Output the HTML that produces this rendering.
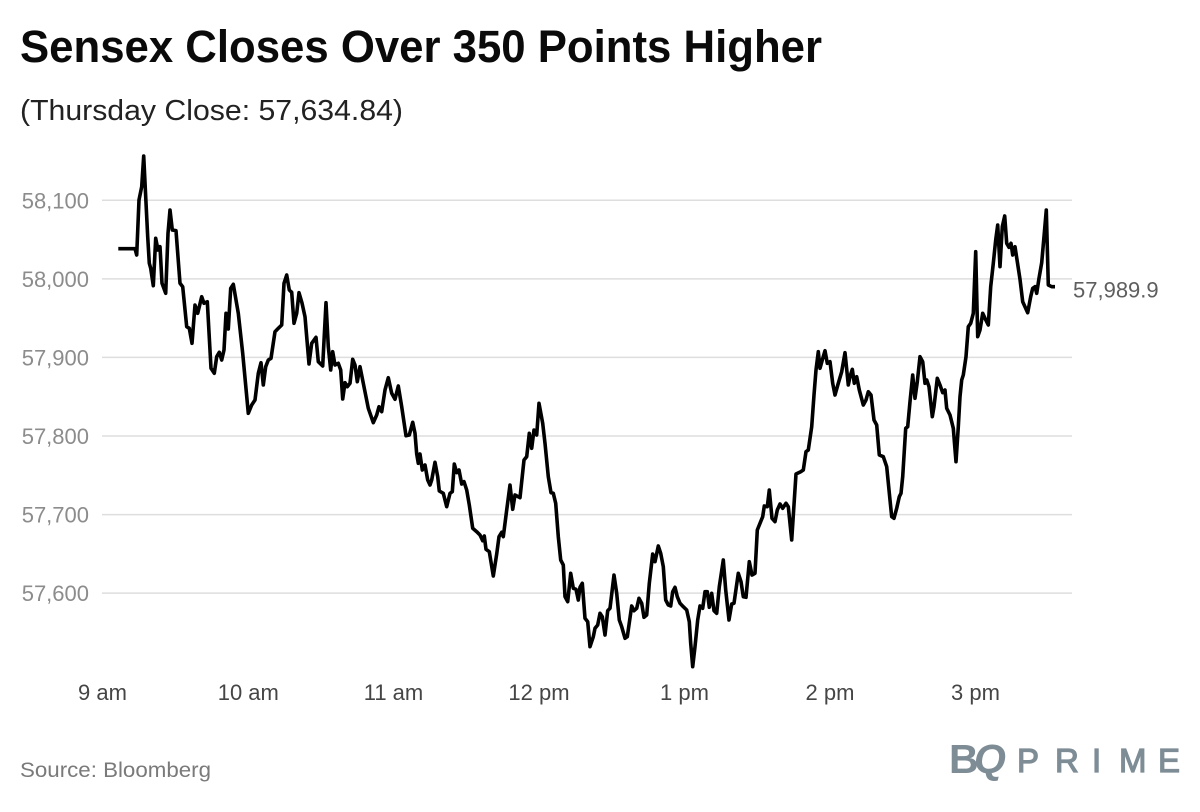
<!DOCTYPE html>
<html>
<head>
<meta charset="utf-8">
<style>
  html, body { margin: 0; padding: 0; background: #ffffff; }
  svg { display: block; }
  text { font-family: "Liberation Sans", Arial, sans-serif; }
</style>
</head>
<body>
<svg width="1200" height="812" viewBox="0 0 1200 812" xmlns="http://www.w3.org/2000/svg">
  <rect x="0" y="0" width="1200" height="812" fill="#ffffff"/>

  <!-- Title -->
  <text x="20" y="62" font-size="45" font-weight="bold" fill="#0a0a0a" textLength="802" lengthAdjust="spacingAndGlyphs">Sensex Closes Over 350 Points Higher</text>
  <text x="20" y="120" font-size="29" fill="#222222" textLength="383" lengthAdjust="spacingAndGlyphs">(Thursday Close: 57,634.84)</text>

  <!-- Gridlines -->
  <g stroke="#dedede" stroke-width="1.5">
    <line x1="102" y1="200.3" x2="1072" y2="200.3"/>
    <line x1="102" y1="278.9" x2="1072" y2="278.9"/>
    <line x1="102" y1="357.4" x2="1072" y2="357.4"/>
    <line x1="102" y1="436" x2="1072" y2="436"/>
    <line x1="102" y1="514.6" x2="1072" y2="514.6"/>
    <line x1="102" y1="593.1" x2="1072" y2="593.1"/>
  </g>

  <!-- Y labels -->
  <g font-size="22" fill="#8c8c8c" text-anchor="end">
    <text x="89" y="208.3">58,100</text>
    <text x="89" y="286.9">58,000</text>
    <text x="89" y="365.4">57,900</text>
    <text x="89" y="444">57,800</text>
    <text x="89" y="522.6">57,700</text>
    <text x="89" y="601.1">57,600</text>
  </g>

  <!-- X labels -->
  <g font-size="22" fill="#454545" text-anchor="middle">
    <text x="102.5" y="700">9 am</text>
    <text x="248.3" y="700">10 am</text>
    <text x="393.5" y="700">11 am</text>
    <text x="539" y="700">12 pm</text>
    <text x="684.5" y="700">1 pm</text>
    <text x="830" y="700">2 pm</text>
    <text x="975.5" y="700">3 pm</text>
  </g>

  <!-- Series -->
  <polyline fill="none" stroke="#000000" stroke-width="3.6" stroke-linejoin="round" stroke-linecap="butt" points="
118.3,248.7 135,248.7 136.7,255 139,200 141.7,186.7 143.7,156 145.7,196.7 147.7,236.7 149.3,263.3 150.7,268.3
153.3,285.7 155.7,238.3 158,250 160,246.7 162,283.3 165.7,293.3 168,233.3 170,210 172.3,230 176,230.7
180,283.3 182.7,286.7 186.7,326.7 189.3,328.3 192,343.3 195,305 197.7,313.3 201.7,296.7 204,303.3 207.3,301.7
211,368.3 214.3,373.3 216.7,356.7 219.3,352.3 221.7,360 224,350 226,313.3 228.3,329 230.7,288.3 233.3,284.3
238.3,313.3 242.7,353.3 248.3,413.3 251.7,405 255,400 258.3,373.3 261,362.7 263.3,385 265.7,366.7 268.3,360
271,358.3 275,331.7 278.3,328.3 281.7,325 284,283.3 286.7,275 289.3,290 291.7,292.3 294,323.3 296.7,313.3
299,292.7 302,303 305,316.7 309,364 311.7,343.3 316,337.3 318.3,361.7 322.7,366 326,302.7 328.3,346.7
330.7,370 332.7,351.7 335,365 338.3,363.3 340.7,370 342.7,399 345,382.7 347.3,386.7 350,383.3 352.7,359.3
355,365 357.3,381.7 360,366.7 363.3,383.3 368.3,408.3 373.3,422.7 376.7,415 379,406.7 381.7,411.7 385,390
388.3,377.7 391.7,393.3 395,399.3 398.3,386 401.7,406.7 406,435.7 409.3,435 412.7,422.3 415,433.3 416.7,454
418.3,463.3 420,454 422.3,470 425,465 427.7,480 430,485 431.7,480 435,462.3 437.7,476.7 439.3,491
443.3,493.3 446.7,506.7 450,493.3 452.3,491.7 454.3,464 456.7,472.7 459,470 461.7,484 464,481.7 466.7,490
469.3,505 472.7,528.3 476.7,531.7 480,535 482.7,540.7 484.3,536 486,549.3 489.3,551.7 493.3,576 496.7,554
499,536.7 501.7,532.3 503.3,536.7 506.7,510 510,485 512.7,509.3 515,495 520,497.7 524,460 526.7,456.7
529.3,433.3 531.7,448.3 534,430 536.7,435 539,403.3 542.7,423.3 545,443.3 548.3,476.7 551,492.7 553.3,493.3
555.7,503.3 558.3,536.7 560.7,560 563.3,565 565,596.7 567.7,601.7 570.7,573.3 573.3,588.3 576,589.3 578.3,600
580,587.3 582.3,583.3 585,618.3 587.7,621.7 590,646.7 593.3,636.7 595,628.3 597.7,625 600,613.3 602.3,616.7
605,635 607.7,610.7 610,608.3 614,575 616.7,593.3 619.3,620 621.7,626.7 625,638.3 627.3,636.7 631.7,606
634,610.7 636.7,608.3 639,598.3 641.7,603.3 644,617.3 646.7,615 649.3,583.3 652.7,554 655,561.7 658.3,546
660.7,553.3 663.3,566.7 665.7,600 668.3,605 670.7,606 672.7,591.7 675,587.3 677.3,596.7 680,603.3 683.3,606.7
686.7,610 689.3,621.7 690.7,643.3 692.7,666.7 695,646.7 697.7,620 700,606 702.7,608.3 705,591.7 707.3,591.7
709.3,607.3 711.7,593.3 714,610.7 716.7,613.3 719.3,586.7 723.3,560 725.7,590 729,620 731.7,604 734,603.3
738.3,573.3 741,581.7 743.3,596.7 746,597.3 749.3,561.7 752,575 755,573.3 757.3,530 760,523.3 762.7,516.7
764.3,506 767.3,506.7 769.3,490 772,518.3 775,521.7 777.3,510 780,504 782.7,508.3 786,503.3 788.3,506.7
791.7,540 796,474 800.7,471.7 803.3,470 806,451.7 808.3,450 811.7,426.7 814,395 816,370 818.3,351.7
820,368.3 822.3,360 825,350.7 827.3,363.3 830,361.7 832.7,383.3 835,395 838.3,383.3 841.7,371.7 845,352.7
848.3,385 850,376.7 852.3,369.3 854.3,383.3 856.7,376.7 859.3,390 863.3,405 866,400 868.3,391.7 871,395
874,420 876.7,425 879.3,455 883.3,456.7 886.7,466.7 890,500 891.7,516.7 894,518.3 896.7,508.3 899.3,496.7
901,493.3 902.7,476.7 905.7,428.3 907.7,426.7 910,401.7 912.7,375 915,398.3 917.3,381.7 920,356.7 922.7,361.7
925,383.3 926.7,380 929,386.7 932.3,416.7 934,406.7 937.3,378.3 940,385 942.7,392.7 945,390 946.7,408.3
950,415 953.3,428.3 956,461.7 958.3,426.7 960,396.7 961.7,380 963.3,375 966,356.7 968.3,326.7 970.7,323.3
973.3,313.3 975.7,251.7 977.7,336.7 980,330 982.7,313.3 985,318.3 988.3,325 990.7,286.7 993.3,263.3 995.7,240
997.7,225 1000,266.7 1002.3,226.7 1004.7,216 1006.7,243.3 1009,247.3 1011,243.3 1012.7,255 1015,246.7 1017.3,261.7
1020,279.3 1022.7,301.7 1027.7,312.7 1030.7,296.7 1032.7,288.3 1035,286.7 1036.7,293.3 1039,278.3 1041.7,262.7 1044,236.7
1046.3,210 1048.3,285 1051.7,286.7 1055,286.7"/>

  <!-- End label -->
  <text x="1073" y="297.5" font-size="22" fill="#5e5e5e">57,989.9</text>

  <!-- Source -->
  <text x="20" y="777" font-size="21.5" fill="#7a7a7a" textLength="191" lengthAdjust="spacingAndGlyphs">Source: Bloomberg</text>

  <!-- Logo -->
  <g fill="#7e8c96">
    <text x="949" y="773" font-family="Liberation Serif, serif" font-size="41" font-weight="bold" letter-spacing="-3">B</text>
    <text x="974" y="773" font-family="Liberation Serif, serif" font-size="41" font-weight="bold" font-style="italic">Q</text>
    <g font-size="33" font-family="Liberation Sans, sans-serif" stroke="#7e8c96" stroke-width="1.2">
      <text x="1017" y="772">P</text>
      <text x="1055" y="772">R</text>
      <text x="1092" y="772">I</text>
      <text x="1119" y="772">M</text>
      <text x="1158" y="772">E</text>
    </g>
  </g>
</svg>
</body>
</html>
